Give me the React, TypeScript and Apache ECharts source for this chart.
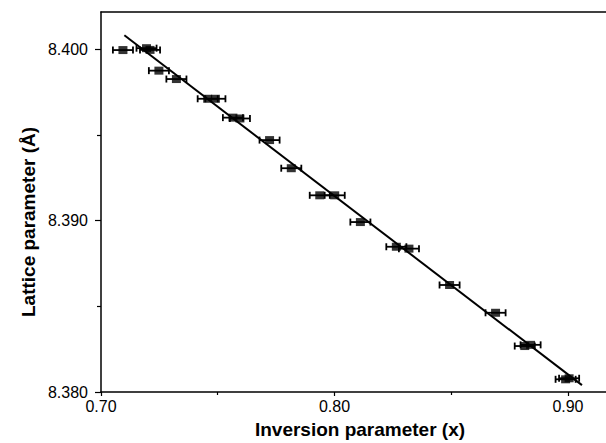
import React, { useEffect, useRef } from "react";
import * as echarts from "echarts";

const inversion = [
  0.7094, 0.7195, 0.7210, 0.7248, 0.7323, 0.7457, 0.7490, 0.7565, 0.7595,
  0.7722, 0.7815, 0.7937, 0.8001, 0.8111, 0.8265, 0.8319, 0.8493, 0.8690,
  0.8815, 0.8840, 0.8990, 0.9005,
];
const lattice = [
  8.39994, 8.40005, 8.39995, 8.39874, 8.39825, 8.3971, 8.3971, 8.396, 8.39595,
  8.39469, 8.39305, 8.39147, 8.39147, 8.38991, 8.38847, 8.38836, 8.38624,
  8.38462, 8.38268, 8.38275, 8.38074, 8.3808,
];
const inversionError = [
  0.0043, 0.0043, 0.0043, 0.0043, 0.0043, 0.0043, 0.0043, 0.0043, 0.0043,
  0.0043, 0.0043, 0.0043, 0.0043, 0.0043, 0.0043, 0.0043, 0.0043, 0.0043,
  0.0043, 0.0043, 0.0043, 0.0043,
];
const fitLine = [
  [0.71, 8.4008],
  [0.906, 8.3804],
];
const xTicks = [0.7, 0.8, 0.9];
const xMinorTicks = [0.75, 0.85];
const yTicks = [8.38, 8.39, 8.4];
const yMinorTicks = [8.385, 8.395];
const xTitle = "Inversion parameter (x)";
const yTitle = "Lattice parameter (Å)";

const X_MIN = 0.7;
const X_MAX = 0.9163;
const Y_MIN = 8.38;
const Y_MAX = 8.40216;

const FONT = "'Liberation Sans', Arial, Helvetica, sans-serif";

export default function App() {
  const ref = useRef<HTMLDivElement>(null);
  useEffect(() => {
    if (!ref.current) return;
    const chart = echarts.init(ref.current, null, { renderer: "svg" });
    const points = inversion.map((x, i) => [x, lattice[i]]);
    const errData = inversion.map((x, i) => [x, lattice[i], inversionError[i]]);
    const axisLine = { show: true, lineStyle: { color: "#000", width: 1.5 } };
    chart.setOption({
      animation: false,
      backgroundColor: "#fff",
      grid: { left: 101, top: 12, right: 0, bottom: 51 },
      xAxis: [
        {
          type: "value",
          min: X_MIN,
          max: X_MAX,
          position: "bottom",
          axisLine,
          axisTick: {
            show: true,
            inside: false,
            length: 4,
            customValues: xTicks,
            lineStyle: { color: "#000", width: 1.2 },
          },
          minorTick: { show: false },
          splitLine: { show: false },
          axisLabel: {
            customValues: xTicks,
            fontFamily: FONT,
            fontSize: 16,
            color: "#000",
            margin: 6,
            formatter: (v: number) => v.toFixed(2),
          },
        },
        {
          type: "value",
          min: X_MIN,
          max: X_MAX,
          position: "bottom",
          axisLine: { show: false },
          axisTick: {
            show: true,
            inside: false,
            length: 3,
            customValues: xMinorTicks,
            lineStyle: { color: "#000", width: 1.2 },
          },
          axisLabel: { show: false },
          splitLine: { show: false },
        },
        {
          type: "value",
          min: X_MIN,
          max: X_MAX,
          position: "top",
          axisLine,
          axisTick: { show: false },
          axisLabel: { show: false },
          splitLine: { show: false },
        },
      ],
      yAxis: [
        {
          type: "value",
          min: Y_MIN,
          max: Y_MAX,
          position: "left",
          axisLine,
          axisTick: {
            show: true,
            inside: false,
            length: 6,
            customValues: yTicks,
            lineStyle: { color: "#000", width: 1.2 },
          },
          minorTick: { show: false },
          splitLine: { show: false },
          axisLabel: {
            customValues: yTicks,
            fontFamily: FONT,
            fontSize: 16,
            color: "#000",
            margin: 13,
            formatter: (v: number) => v.toFixed(3),
          },
        },
        {
          type: "value",
          min: Y_MIN,
          max: Y_MAX,
          position: "left",
          axisLine: { show: false },
          axisTick: {
            show: true,
            inside: false,
            length: 4,
            customValues: yMinorTicks,
            lineStyle: { color: "#000", width: 1.2 },
          },
          axisLabel: { show: false },
          splitLine: { show: false },
        },
      ],
      graphic: [
        {
          type: "text",
          x: 360,
          y: 429,
          style: {
            text: xTitle,
            fontFamily: FONT,
            fontSize: 19,
            fontWeight: "bold",
            fill: "#000",
            textAlign: "center",
            textVerticalAlign: "middle",
          },
        },
        {
          type: "text",
          x: 28,
          y: 222,
          rotation: Math.PI / 2,
          style: {
            text: yTitle,
            fontFamily: FONT,
            fontSize: 19,
            fontWeight: "bold",
            fill: "#000",
            textAlign: "center",
            textVerticalAlign: "middle",
          },
        },
      ],
      series: [
        {
          type: "line",
          data: fitLine,
          showSymbol: false,
          symbol: "none",
          lineStyle: { color: "#000", width: 2 },
          z: 2,
        },
        {
          type: "custom",
          data: errData,
          z: 3,
          renderItem: (params: any, api: any) => {
            const x = api.value(0);
            const y = api.value(1);
            const e = api.value(2);
            const p0 = api.coord([x - e, y]);
            const p1 = api.coord([x + e, y]);
            const cap = 3.5;
            const style = { stroke: "#000", lineWidth: 1.8 };
            return {
              type: "group",
              children: [
                { type: "line", shape: { x1: p0[0], y1: p0[1], x2: p1[0], y2: p1[1] }, style },
                { type: "line", shape: { x1: p0[0], y1: p0[1] - cap, x2: p0[0], y2: p0[1] + cap }, style },
                { type: "line", shape: { x1: p1[0], y1: p1[1] - cap, x2: p1[0], y2: p1[1] + cap }, style },
              ],
            };
          },
        },
        {
          type: "scatter",
          data: points,
          symbol: "rect",
          symbolSize: [9, 8],
          itemStyle: { color: "#000" },
          z: 4,
        },
      ],
    });
    return () => chart.dispose();
  }, []);
  return (
    <div
      ref={ref}
      style={{ position: "fixed", left: 0, top: 0, width: 606, height: 443, background: "#fff" }}
    />
  );
}
